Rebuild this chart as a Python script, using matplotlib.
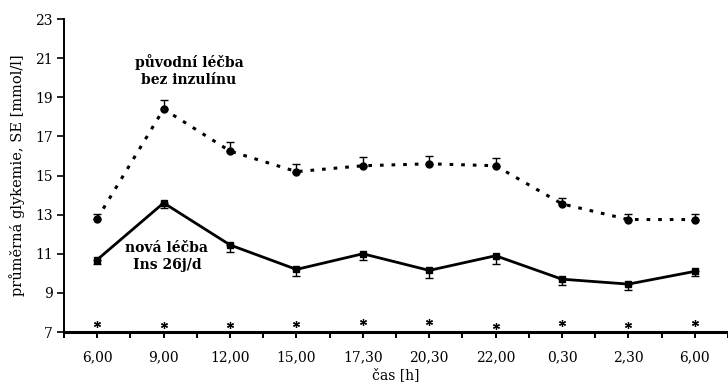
import numpy as np
import matplotlib
matplotlib.use('Agg')
import matplotlib.pyplot as plt

matplotlib.rcParams['font.family'] = 'DejaVu Serif'

# casy mereni
casy = ['6,00', '9,00', '12,00', '15,00', '17,30', '20,30', '22,00', '0,30', '2,30', '6,00']

# puvodni lecba bez inzulinu
puvodni = [12.8, 18.4, 16.25, 15.2, 15.5, 15.6, 15.5, 13.55, 12.75, 12.75]
puvodni_se = [0.25, 0.45, 0.45, 0.4, 0.45, 0.4, 0.4, 0.3, 0.3, 0.3]

# nova lecba Ins 26j/d
nova = [10.7, 13.6, 11.45, 10.2, 11.0, 10.15, 10.9, 9.7, 9.45, 10.1]
nova_se = [0.2, 0.25, 0.35, 0.35, 0.3, 0.4, 0.4, 0.3, 0.3, 0.25]

# hvezdicky (vyznamnost)
hvezdy = [7.4, 7.35, 7.35, 7.4, 7.5, 7.5, 7.3, 7.45, 7.35, 7.45]

x = np.arange(len(casy))

fig = plt.figure(figsize=(7.28, 3.89), dpi=100)
ax = fig.add_axes([0.088, 0.1465, 0.912, 0.8045])

# puvodni lecba - teckovana cara, chyby nahoru
ax.errorbar(x, puvodni, yerr=[np.zeros(len(x)), puvodni_se], fmt='none',
            ecolor='black', elinewidth=1, capsize=3, capthick=1)
ax.plot(x, puvodni, color='black', linestyle=(0, (1.2, 2.6)), linewidth=2.2,
        marker='o', markersize=5)

# nova lecba - plna cara, chyby dolu
ax.errorbar(x, nova, yerr=[nova_se, np.zeros(len(x))], fmt='none',
            ecolor='black', elinewidth=1, capsize=3, capthick=1)
ax.plot(x, nova, color='black', linestyle='-', linewidth=2,
        marker='s', markersize=5)

ax.plot(x, hvezdy, linestyle='none', marker=(6, 2, 0), markersize=5,
        color='black', markeredgewidth=0.9)

# popisky
ax.text(1.38, 20.35, 'původní léčba\nbez inzulínu', ha='center', va='center',
        fontsize=10, fontweight='bold', linespacing=1.25)
ax.text(1.05, 10.85, 'nová léčba\nIns 26j/d', ha='center', va='center',
        fontsize=10, fontweight='bold', linespacing=1.25)

ax.set_xlim(-0.49, 9.35)
ax.set_ylim(7, 23)
ax.set_yticks(np.arange(7, 24, 2))
ax.set_xticks(x)
ax.set_xticklabels(casy)
ax.set_xticks(np.arange(-0.5, 9.6, 1), minor=True)

ax.spines['top'].set_visible(False)
ax.spines['right'].set_visible(False)
ax.spines['bottom'].set_linewidth(2.2)
ax.spines['left'].set_linewidth(1.4)

ax.tick_params(axis='x', which='both', direction='out', length=4, width=1.4,
               labelsize=10, pad=9)
ax.tick_params(axis='y', direction='out', length=5, width=1.2, labelsize=10, pad=3)

ax.set_xlabel('čas [h]', fontsize=10, labelpad=3)
ax.set_ylabel('průměrná glykemie, SE [mmol/l]', fontsize=10.5, labelpad=7)

fig.savefig('out.png', dpi=100)
